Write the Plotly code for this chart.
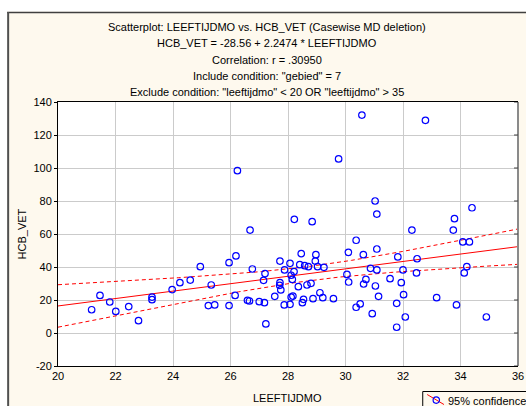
import numpy as np
import plotly.graph_objects as go

# ---- data ----
AGE = [21.17, 21.46, 21.80, 22.01, 22.46, 22.80, 23.27, 23.27, 23.97, 24.24,
       24.60, 24.95, 25.23, 25.33, 25.45, 25.95, 25.95, 26.16, 26.19, 26.24,
       26.59, 26.66, 26.68, 26.76, 27.00, 27.15, 27.20, 27.18, 27.23, 27.54,
       27.72, 27.72, 27.71, 27.75, 27.87, 27.88, 28.07, 28.07, 28.11, 28.11,
       28.15, 28.17, 28.22, 28.21,
       28.36, 28.46, 28.41, 28.50, 28.54, 28.58, 28.66, 28.71, 28.80, 28.84,
       28.87, 28.95, 28.97, 29.03, 29.11, 29.21, 29.25, 29.58, 29.76, 30.05,
       30.11, 30.10, 30.37, 30.37, 30.51, 30.57, 30.62, 30.63, 30.71, 30.87,
       30.93, 31.03, 31.04, 31.09, 31.09, 31.09, 31.15, 31.55, 31.78, 31.78,
       31.82, 31.94, 32.00, 32.02, 32.08, 32.31, 32.47, 32.49, 32.78, 33.17,
       33.75, 33.79, 33.86, 34.08, 34.13, 34.22, 34.31, 34.40, 34.90]
HCB = [14.1, 22.8, 18.8, 13.1, 16.0, 7.5, 21.8, 20.2, 26.3, 30.5,
       32.1, 40.2, 16.6, 29.1, 17.0, 42.6, 16.6, 22.8, 46.7, 98.4,
       19.8, 19.4, 62.4, 38.8, 19.0, 31.9, 36.0, 18.4, 5.5, 22.2,
       43.6, 30.5, 28.9, 26.1, 17.0, 38.2, 42.2, 17.4, 21.8, 35.0,
       32.5, 22.4, 68.9, 37.2,
       28.1, 48.1, 41.4, 18.4, 20.4, 40.8, 29.1, 40.2, 30.1, 67.5,
       20.8, 43.6, 47.5, 40.2, 24.4, 21.4, 39.8, 20.8, 105.5, 35.5,
       30.9, 48.9, 56.2, 15.6, 17.6, 132.1, 47.5, 29.7, 32.5, 39.2,
       11.7, 80.0, 28.5, 72.1, 38.2, 50.9, 22.2, 32.9, 18.0, 3.5,
       46.1, 30.5, 38.2, 23.2, 9.7, 62.4, 36.4, 45.0, 128.9, 21.4,
       62.4, 69.3, 17.0, 55.2, 36.4, 40.2, 55.2, 75.9, 9.7]
INTERCEPT = -28.56
SLOPE = 2.2474
T_CRIT = 1.984  # two-sided 95% t value, df ~ 100
X_RANGE = [20, 36]
Y_RANGE = [-20, 140]
X_TICKS = list(range(20, 37, 2))
Y_TICKS = list(range(-20, 141, 20))
TITLE_LINES = [
    "Scatterplot: LEEFTIJDMO vs. HCB_VET (Casewise MD deletion)",
    "HCB_VET = -28.56 + 2.2474 * LEEFTIJDMO",
    "Correlation: r = .30950",
    'Include condition: "gebied" = 7',
    'Exclude condition: "leeftijdmo" < 20 OR "leeftijdmo" > 35',
]
X_TITLE = "LEEFTIJDMO"
Y_TITLE = "HCB_VET"
LEGEND_TEXT = "95% confidence"

# ---- regression line and 95% confidence band ----
x = np.array(AGE)
y = np.array(HCB)
n = len(x)
xm = x.mean()
sxx = ((x - xm) ** 2).sum()
resid = y - (INTERCEPT + SLOPE * x)
s = np.sqrt((resid ** 2).sum() / (n - 2))
xs = np.linspace(X_RANGE[0], X_RANGE[1], 200)
fit = INTERCEPT + SLOPE * xs
half = T_CRIT * s * np.sqrt(1.0 / n + (xs - xm) ** 2 / sxx)

W, H = 526, 406
ML, MR, MT, MB = 58, 2, 102, 40
PW, PH = W - ML - MR, H - MT - MB


def px(v):
    return (v - ML) / PW


def py(v):
    return (H - MB - v) / PH


FONT = "Liberation Sans, Arial, sans-serif"
BG = "#fef9ee"
RED = "#ff0000"

fig = go.Figure()
fig.add_trace(go.Scatter(x=xs, y=fit, mode="lines",
                         line=dict(color=RED, width=1), hoverinfo="skip"))
fig.add_trace(go.Scatter(x=xs, y=fit + half, mode="lines",
                         line=dict(color=RED, width=1, dash="4px,3px"), hoverinfo="skip"))
fig.add_trace(go.Scatter(x=xs, y=fit - half, mode="lines",
                         line=dict(color=RED, width=1, dash="4px,3px"), hoverinfo="skip"))
fig.add_trace(go.Scatter(x=AGE, y=HCB, mode="markers",
                         marker=dict(symbol="circle-open", size=6.5, color="#0000ff",
                                     line=dict(width=1.2, color="#0000ff"))))

annotations = []
title_y = [27, 43.5, 60, 76, 92]
for txt, ty in zip(TITLE_LINES, title_y):
    annotations.append(dict(text=txt, xref="paper", yref="paper", x=px(270), y=py(ty),
                            xanchor="center", yanchor="middle", showarrow=False,
                            font=dict(family=FONT, size=11, color="black")))
annotations.append(dict(text=X_TITLE, xref="paper", yref="paper", x=px(290), y=py(398),
                        xanchor="center", yanchor="middle", showarrow=False,
                        font=dict(family=FONT, size=11, color="black")))
annotations.append(dict(text=Y_TITLE, xref="paper", yref="paper", x=px(22), y=py(234),
                        xanchor="center", yanchor="middle", showarrow=False, textangle=-90,
                        font=dict(family=FONT, size=11, color="black")))
annotations.append(dict(text=LEGEND_TEXT, xref="paper", yref="paper", x=px(451), y=py(401),
                        xanchor="left", yanchor="middle", showarrow=False,
                        font=dict(family=FONT, size=11, color="black")))

shapes = [
    # white strips outside the chart frame
    dict(type="rect", xref="paper", yref="paper", x0=px(-5), x1=px(540), y0=py(11.5), y1=py(-5),
         fillcolor="white", line=dict(width=0), layer="below"),
    dict(type="rect", xref="paper", yref="paper", x0=px(-5), x1=px(6.5), y0=py(420), y1=py(-5),
         fillcolor="white", line=dict(width=0), layer="below"),
    # frame
    dict(type="line", xref="paper", yref="paper", x0=px(6.5), x1=px(540), y0=py(12.5), y1=py(12.5),
         line=dict(color="#404040", width=1.5)),
    dict(type="line", xref="paper", yref="paper", x0=px(7.5), x1=px(7.5), y0=py(12), y1=py(420),
         line=dict(color="#505050", width=2)),
    # right axis (gray)
    dict(type="line", xref="paper", yref="paper", x0=1, x1=1, y0=0, y1=1,
         line=dict(color="#8a8a8a", width=2)),
    # legend box
    dict(type="rect", xref="paper", yref="paper", x0=px(427.5), x1=px(560), y0=py(391.5), y1=py(430),
         fillcolor=BG, line=dict(color="black", width=1)),
    dict(type="line", xref="paper", yref="paper", x0=px(432), x1=px(449), y0=py(394.5), y1=py(404.5),
         line=dict(color=RED, width=1)),
    dict(type="circle", xref="paper", yref="paper", x0=px(438), x1=px(444.5), y0=py(396.8), y1=py(403.3),
         line=dict(color="#0000ff", width=1.2), fillcolor="rgba(0,0,0,0)"),
]
# inward ticks on the right axis
for v in Y_TICKS:
    shapes.append(dict(type="line", xref="paper", yref="y", x0=1, x1=px(ML + PW - 4), y0=v, y1=v,
                       line=dict(color="#404040", width=1)))

fig.update_layout(
    width=W, height=H,
    margin=dict(l=ML, r=MR, t=MT, b=MB, pad=0),
    paper_bgcolor=BG, plot_bgcolor="white",
    showlegend=False,
    font=dict(family=FONT, size=11, color="black"),
    xaxis=dict(range=X_RANGE, tickvals=X_TICKS, ticktext=[str(v) for v in X_TICKS],
               ticklabeloverflow="allow",
               showgrid=True, gridcolor="#cbcbcb", gridwidth=1.2,
               zeroline=False, showline=True, linecolor="black", linewidth=1, mirror=True,
               ticks="", tickfont=dict(family=FONT, size=11, color="black")),
    yaxis=dict(range=Y_RANGE, tickvals=Y_TICKS, ticktext=[str(v) for v in Y_TICKS],
               ticklabeloverflow="allow",
               showgrid=True, gridcolor="#cbcbcb", gridwidth=1.2,
               zeroline=False, showline=True, linecolor="black", linewidth=1,
               ticks="outside", ticklen=3, tickcolor="black",
               tickfont=dict(family=FONT, size=11, color="black")),
    annotations=annotations,
    shapes=shapes,
)

fig.write_html("out.html")
